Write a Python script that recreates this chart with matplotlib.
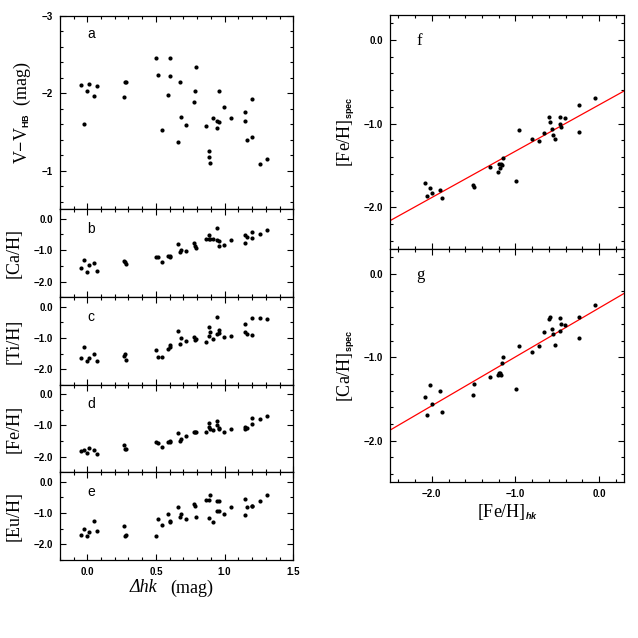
"""Seven-panel figure: abundances vs Delta-hk (left), spectroscopic vs hk metallicity (right)."""

import numpy as np
import matplotlib
matplotlib.use("Agg")
import matplotlib.pyplot as plt
from matplotlib import _mathtext
from matplotlib.ticker import MultipleLocator

# left column: one entry per star
DHK = [-0.046, -0.022, 0.000, 0.015, 0.051, 0.068, 0.265, 0.275, 0.284, 0.498,
       0.513, 0.542, 0.590, 0.600, 0.602, 0.663, 0.678, 0.680, 0.719, 0.777,
       0.784, 0.789, 0.867, 0.889, 0.884, 0.891, 0.913, 0.942, 0.947, 0.957,
       0.957, 0.993, 1.047, 1.146, 1.148, 1.160, 1.197, 1.197, 1.258, 1.311]
V_VHB = [-2.10, -1.60, -2.03, -2.12, -1.96, -2.09, -1.95, -2.14, -2.15, -2.46,
         -2.24, -1.53, -1.98, -2.46, -2.22, -1.37, -2.15, -1.69, -1.59, -1.88,
         -2.03, -2.34, -1.57, -1.25, -1.17, -1.10, -1.68, -1.55, -1.64, -1.63,
         -2.03, -1.82, -1.68, -1.75, -1.64, -1.40, -1.43, -1.93, -1.09, -1.15]
CA_H = [-1.56, -1.32, -1.70, -1.48, -1.40, -1.66, -1.34, -1.39, -1.45, -1.23,
        -1.22, -1.37, -1.20, -1.19, -1.21, -0.79, -1.07, -0.99, -1.03, -0.77,
        -0.88, -0.94, -0.64, -0.51, -0.64, -0.66, -0.63, -0.30, -0.68, -0.72,
        -0.87, -0.84, -0.68, -0.77, -0.53, -0.58, -0.43, -0.61, -0.50, -0.37]
TI_H = [-1.65, -1.29, -1.74, -1.64, -1.52, -1.74, -1.56, -1.51, -1.69, -1.38,
        -1.62, -1.62, -1.35, -1.23, -1.28, -0.77, -1.20, -0.99, -1.10, -0.98,
        -1.06, -1.02, -1.14, -0.64, -0.95, -0.80, -1.04, -0.33, -0.86, -0.74,
        -0.83, -0.96, -0.94, -0.56, -0.82, -0.87, -0.35, -0.90, -0.37, -0.40]
FE_H = [-1.83, -1.80, -1.88, -1.72, -1.80, -1.90, -1.63, -1.75, -1.75, -1.53,
        -1.57, -1.70, -1.54, -1.51, -1.52, -1.25, -1.50, -1.42, -1.34, -1.22,
        -1.20, -1.21, -1.22, -0.92, -1.06, -1.10, -1.16, -0.87, -0.98, -1.09,
        -1.12, -1.20, -1.12, -1.04, -1.11, -1.08, -0.94, -0.75, -0.78, -0.70]
EU_H = [-1.71, -1.52, -1.72, -1.60, -1.25, -1.59, -1.41, -1.72, -1.71, -1.73,
        -1.18, -1.39, -1.04, -1.25, -1.30, -0.82, -1.14, -1.02, -1.18, -0.71,
        -0.78, -1.13, -0.59, -0.57, -1.16, -0.44, -1.30, -0.95, -0.62, -0.63,
        -0.95, -1.04, -0.80, -0.55, -1.05, -0.81, -0.78, -0.78, -0.62, -0.44]

# right column
FEH_HK = [-2.083, -2.052, -2.020, -2.000, -1.900, -1.873, -1.507, -1.491,
          -1.300, -1.205, -1.197, -1.181, -1.173, -1.165, -1.149, -0.990,
          -0.958, -0.799, -0.712, -0.656, -0.596, -0.580, -0.561, -0.553,
          -0.521, -0.469, -0.461, -0.453, -0.402, -0.239, -0.239, -0.052]
FEH_SPEC = [-1.716, -1.868, -1.772, -1.828, -1.788, -1.884, -1.732, -1.756,
            -1.524, -1.576, -1.488, -1.532, -1.488, -1.492, -1.416, -1.684,
            -1.076, -1.184, -1.204, -1.112, -0.916, -0.984, -1.064, -1.136,
            -1.184, -1.004, -0.916, -1.040, -0.932, -0.776, -1.096, -0.692]
CAH_SPEC = [-1.476, -1.696, -1.328, -1.556, -1.404, -1.656, -1.456, -1.316,
            -1.236, -1.216, -1.192, -1.188, -1.208, -1.068, -0.996, -1.376,
            -0.868, -0.936, -0.864, -0.696, -0.540, -0.516, -0.656, -0.720,
            -0.848, -0.684, -0.528, -0.604, -0.616, -0.516, -0.772, -0.376]
# fitted lines (slope, intercept)
FIT_FE = (0.554, -0.776)
FIT_CA = (0.586, -0.409)

SERIF = "Liberation Serif"
SANS = "Liberation Sans"


def fmt1(v, pos):
    return f"{v:.1f}".replace("-", "\u2212")


def fmt0(v, pos):
    return f"{v:.0f}".replace("-", "\u2212")


def style(ax, xminor, yminor, ymajor):
    ax.xaxis.set_minor_locator(MultipleLocator(xminor))
    ax.yaxis.set_major_locator(MultipleLocator(ymajor))
    ax.yaxis.set_minor_locator(MultipleLocator(yminor))
    ax.tick_params(which="both", direction="in", top=True, right=True,
                   width=0.8, labelsize=7)
    ax.tick_params(which="major", length=4.2, pad=5)
    ax.tick_params(which="minor", length=2.3)
    for s in ax.spines.values():
        s.set_linewidth(0.9)


def main():
    # small subscripts as in the original figure
    _mathtext.SHRINK_FACTOR = 0.5
    plt.rcParams["font.family"] = SANS
    plt.rcParams["font.weight"] = "bold"
    plt.rcParams["mathtext.fontset"] = "custom"
    plt.rcParams["mathtext.rm"] = SERIF
    plt.rcParams["mathtext.it"] = SERIF + ":italic"
    plt.rcParams["mathtext.bf"] = SANS + ":bold"
    plt.rcParams["mathtext.bfit"] = SANS + ":italic:bold"
    lab_kw = dict(fontfamily=SERIF, fontweight="normal", fontsize=13)

    fig = plt.figure(figsize=(6.38, 6.38), dpi=100)
    x0, w = 0.0937, 0.366
    ax_a = fig.add_axes([x0, 0.672, w, 0.3034])
    ax_b = fig.add_axes([x0, 0.534, w, 0.138], sharex=ax_a)
    ax_c = fig.add_axes([x0, 0.3966, w, 0.1375], sharex=ax_a)
    ax_d = fig.add_axes([x0, 0.2597, w, 0.137], sharex=ax_a)
    ax_e = fig.add_axes([x0, 0.1223, w, 0.1375], sharex=ax_a)
    ax_f = fig.add_axes([0.6113, 0.6097, 0.3668, 0.3668])
    ax_g = fig.add_axes([0.6113, 0.2440, 0.3668, 0.3657], sharex=ax_f)

    ms = 9
    ax_a.scatter(DHK, V_VHB, s=ms, c="k", lw=0)
    ax_a.set_xlim(-0.2, 1.5)
    ax_a.set_ylim(-0.5, -3)
    style(ax_a, 0.1, 0.2, 1)
    ax_a.yaxis.set_major_formatter(fmt0)
    ax_a.set_ylabel(r"V$-$V$_{\mathbf{HB}}$  (mag)", **lab_kw)
    ax_a.yaxis.set_label_coords(-0.115, 0.5)
    ax_a.text(0.118, 0.905, "a", transform=ax_a.transAxes, fontsize=10,
              fontweight="normal", ha="left", va="center")

    rows = [(ax_b, CA_H, "[Ca/H]", "b"), (ax_c, TI_H, "[Ti/H]", "c"),
            (ax_d, FE_H, "[Fe/H]", "d"), (ax_e, EU_H, "[Eu/H]", "e")]
    for ax, vals, lab, letter in rows:
        ax.scatter(DHK, vals, s=ms, c="k", lw=0)
        ax.set_ylim(-2.5, 0.3)
        style(ax, 0.1, 0.5, 1)
        ax.yaxis.set_major_formatter(fmt1)
        ax.set_ylabel(lab, **lab_kw)
        ax.yaxis.set_label_coords(-0.158, 0.5)
        ax.text(0.118, 0.78, letter, transform=ax.transAxes, fontsize=10,
                fontweight="normal", ha="left", va="center")
    for ax in (ax_a, ax_b, ax_c, ax_d):
        ax.tick_params(labelbottom=False)
    ax_e.xaxis.set_major_locator(MultipleLocator(0.5))
    ax_e.xaxis.set_major_formatter(fmt1)
    ax_e.text(0.416, -0.22, "\u0394hk", transform=ax_e.transAxes,
              style="italic", ha="right", va="top", **lab_kw)
    ax_e.text(0.472, -0.22, "(mag)", transform=ax_e.transAxes,
              ha="left", va="top", **lab_kw)

    xs = np.array([-2.5, 0.3])
    right = [(ax_f, FEH_SPEC, FIT_FE, r"[Fe/H]$_{\mathbf{spec}}$", "f"),
             (ax_g, CAH_SPEC, FIT_CA, r"[Ca/H]$_{\mathbf{spec}}$", "g")]
    for ax, vals, fit, lab, letter in right:
        ax.scatter(FEH_HK, vals, s=ms, c="k", lw=0, zorder=3)
        ax.plot(xs, fit[0] * xs + fit[1], color="red", lw=0.9)
        ax.set_xlim(-2.5, 0.3)
        ax.set_ylim(-2.5, 0.3)
        ax.xaxis.set_major_locator(MultipleLocator(1))
        style(ax, 0.2, 0.2, 1)
        ax.xaxis.set_major_formatter(fmt1)
        ax.yaxis.set_major_formatter(fmt1)
        ax.set_ylabel(lab, **lab_kw)
        ax.yaxis.set_label_coords(-0.14, 0.5)
        ax.text(0.114, 0.89, letter, transform=ax.transAxes, fontfamily=SERIF,
                fontweight="normal", fontsize=12, ha="left", va="center")
    ax_f.tick_params(labelbottom=False)
    ax_g.set_xlabel(r"[Fe/H]$_{\mathbfit{hk}}$", **lab_kw)
    ax_g.xaxis.set_label_coords(0.5, -0.085)
    ax_g.xaxis.label.set_va("top")

    fig.savefig("out.png", dpi=100)


if __name__ == "__main__":
    main()
